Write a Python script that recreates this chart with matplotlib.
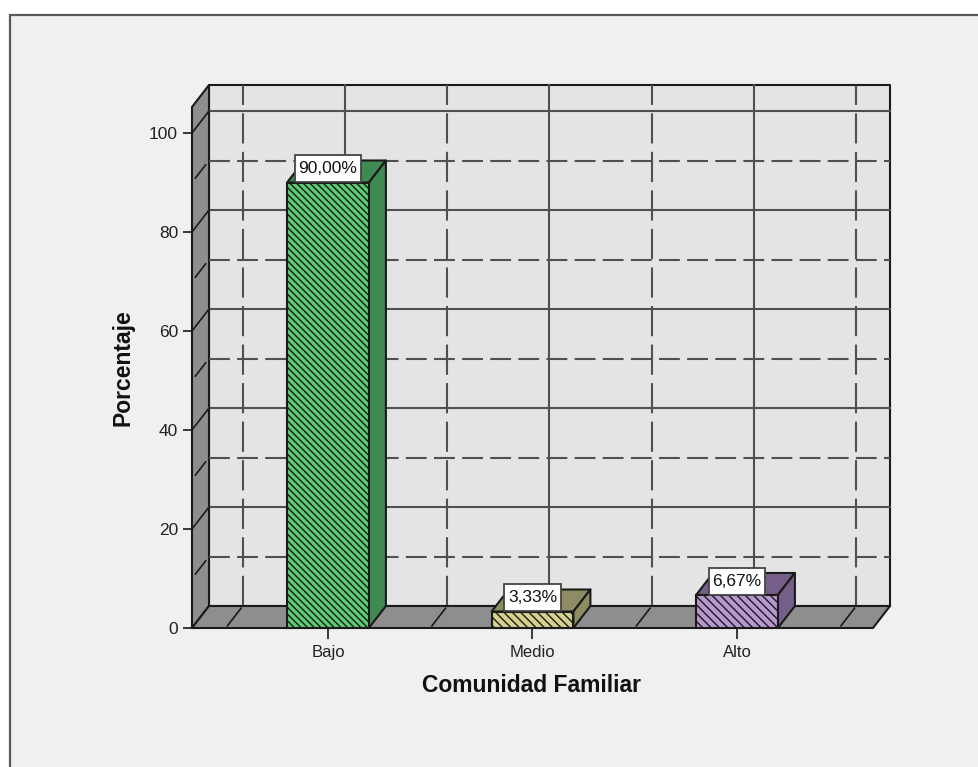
import matplotlib
matplotlib.use("Agg")
import matplotlib.pyplot as plt
from matplotlib.patches import Polygon, Rectangle
from matplotlib.path import Path

plt.rcParams["font.family"] = ["Liberation Sans", "DejaVu Sans"]
plt.rcParams["hatch.linewidth"] = 1.0

# ── Data ──────────────────────────────────────────────────────────────────────
categories = ["Bajo", "Medio", "Alto"]
values = [90.00, 3.33, 6.67]
value_labels = ["90,00%", "3,33%", "6,67%"]
y_ticks = [0, 20, 40, 60, 80, 100]
solid_levels = [20, 40, 60, 80, 100]
dashed_levels = [10, 30, 50, 70, 90]

# ── Style ─────────────────────────────────────────────────────────────────────
W, H = 979, 767
FACE = ["#5CCB72", "#D5D08E", "#B698CF"]
SIDE = ["#3F8A52", "#8D8C62", "#755F88"]
HATCH = ["\\" * 5, "\\" * 4, "\\" * 4]
EDGE = "#1a1a1a"
GRID = "#505050"
WALL = "#8e8e8e"

fig = plt.figure(figsize=(W / 100, H / 100), dpi=100, facecolor="white")
fig.patches.append(Rectangle((10 / W, -0.02), 1, 1.02 - 15 / H, transform=fig.transFigure,
                             facecolor="#f0f0f0", edgecolor="#5a5a5a", lw=1.6, zorder=-5))

# front plane of the 3D box, in pixels
left, right, bottom, top = 192, 873, 628, 107
ax = fig.add_axes([left / W, 1 - bottom / H, (right - left) / W, (bottom - top) / H], zorder=2)
ax.patch.set_visible(False)
for s in ax.spines.values():
    s.set_visible(False)

PX_X = 204.5    # pixels per category
PX_Y = 4.95     # pixels per percent
x0, x1 = (left - 328) / PX_X, (right - 328) / PX_X
y1 = (bottom - top) / PX_Y
ax.set_xlim(x0, x1)
ax.set_ylim(0, y1)
dx, dy = 17 / PX_X, 22 / PX_Y   # depth of the box
bar_w = 0.4


def poly(pts, fc, z, lw=1.5):
    ax.add_patch(Polygon(pts, closed=True, facecolor=fc, edgecolor=EDGE, lw=lw,
                         zorder=z, clip_on=False, joinstyle="round"))


def label_box(bx, by, w, h, mutation_size):
    # value label box: taller than the uniform padding of the stock styles
    px, py = 3.5, 6.0
    return Path([(bx - px, by - py), (bx + w + px, by - py), (bx + w + px, by + h + py),
                 (bx - px, by + h + py), (bx - px, by - py)], closed=True)


# back wall, left wall
poly([(x0 + dx, dy), (x1 + dx, dy), (x1 + dx, y1 + dy), (x0 + dx, y1 + dy)], "#e4e4e4", 1)
poly([(x0, 0), (x0 + dx, dy), (x0 + dx, y1 + dy), (x0, y1)], WALL, 1)

# grid on the walls
h_dash = (0, (10, 3.5))
v_dash = (0, (14.5, 4))
for v in solid_levels:
    ax.plot([x0 + dx, x1 + dx], [v + dy, v + dy], color=GRID, lw=1.5, zorder=2, clip_on=False)
    ax.plot([x0, x0 + dx], [v, v + dy], color=EDGE, lw=1.2, zorder=2, clip_on=False)
for v in dashed_levels:
    ax.plot([x0 + dx, x1 + dx], [v + dy, v + dy], color=GRID, lw=1.5, ls=h_dash, zorder=2, clip_on=False)
    ax.plot([x0 + dx * 0.2, x0 + dx * 0.8], [v + dy * 0.2, v + dy * 0.8], color=EDGE, lw=1.2, zorder=2, clip_on=False)
for i in range(len(categories)):
    ax.plot([i + dx, i + dx], [dy, y1 + dy], color=GRID, lw=1.5, zorder=2, clip_on=False)
for b in [-0.5, 0.5, 1.5, 2.5]:
    ax.plot([b + dx, b + dx], [dy, y1 + dy], color=GRID, lw=1.5, ls=v_dash, zorder=2, clip_on=False)

# floor
poly([(x0, 0), (x1, 0), (x1 + dx, dy), (x0 + dx, dy)], WALL, 3)
for b in [-0.5, 0.5, 1.5, 2.5]:
    ax.plot([b + dx * 0.1, b + dx * 0.9], [dy * 0.1, dy * 0.9], color=EDGE, lw=1.2, zorder=4, clip_on=False)

# bars with their top and side faces
for i, v in enumerate(values):
    xa, xb = i - bar_w / 2, i + bar_w / 2
    poly([(xa, v), (xb, v), (xb + dx, v + dy), (xa + dx, v + dy)], SIDE[i], 5)
    poly([(xb, 0), (xb + dx, dy), (xb + dx, v + dy), (xb, v)], SIDE[i], 5)
bars = ax.bar(range(len(values)), values, width=bar_w, color=FACE, edgecolor=EDGE,
              linewidth=1.5, zorder=6, clip_on=False)
for rect, h in zip(bars, HATCH):
    rect.set_hatch(h)

# value labels
for i, (v, txt) in enumerate(zip(values, value_labels)):
    ax.annotate(txt, (i, v), xytext=(0, 10), textcoords="offset points",
                ha="center", va="center", fontsize=12.5, color="#111111", zorder=8,
                bbox=dict(boxstyle=label_box, facecolor="white",
                          edgecolor="#444444", lw=1.3))

ax.set_xticks(range(len(categories)), categories)
ax.set_yticks(y_ticks)
ax.tick_params(axis="x", length=8, width=1.2, pad=4, labelsize=12, color=EDGE, labelcolor="#222222")
ax.tick_params(axis="y", length=6.5, width=1.2, pad=3.5, labelsize=12.5, color=EDGE, labelcolor="#222222")

fig.text(123 / W, 1 - 368 / H, "Porcentaje", rotation=90, ha="center", va="center",
         fontsize=16.5, fontweight="bold", color="#111111")
fig.text(532 / W, 1 - 686 / H, "Comunidad Familiar", ha="center", va="center",
         fontsize=16.5, fontweight="bold", color="#111111")

fig.savefig("out.png", dpi=100, facecolor=fig.get_facecolor())
